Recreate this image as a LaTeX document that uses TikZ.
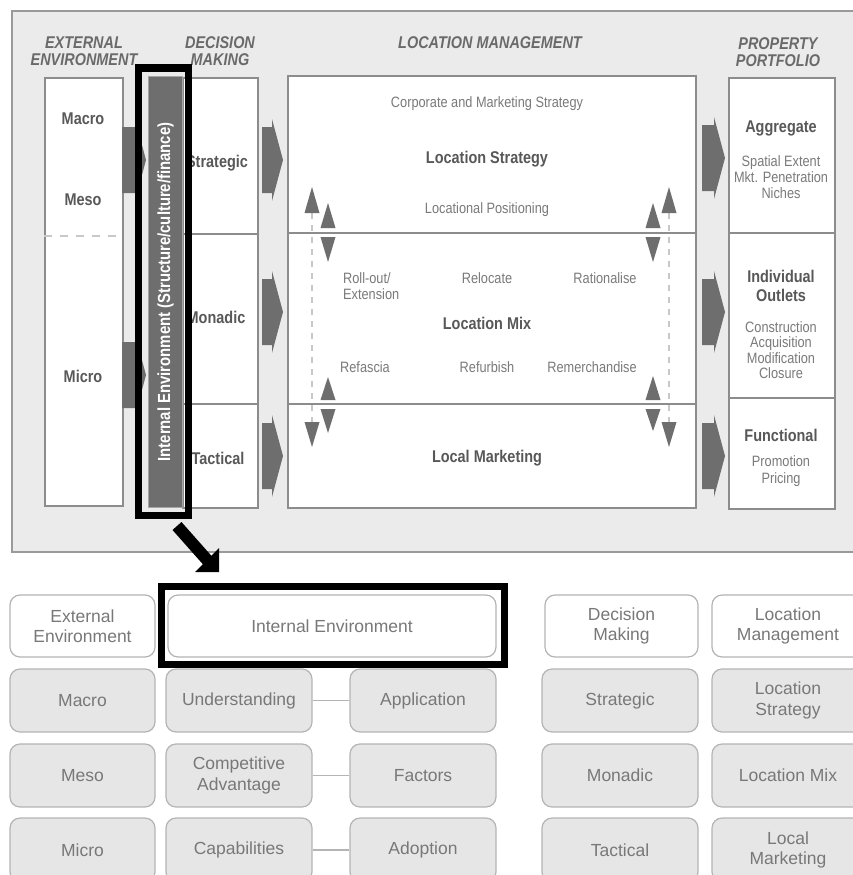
\documentclass[tikz,border=0pt]{standalone}
\usepackage{fontspec}
\setmainfont{Liberation Sans}
\newfontfamily\cnd[FakeStretch=0.85]{Liberation Sans}
\usetikzlibrary{calc}

\definecolor{panelbg}{HTML}{EBEBEB}
\definecolor{panelline}{HTML}{9A9A9A}
\definecolor{boxline}{HTML}{8C8C8C}
\definecolor{darkfill}{HTML}{6E6E6E}
\definecolor{txtbold}{HTML}{585858}
\definecolor{txtlight}{HTML}{7A7A7A}
\definecolor{hdrcol}{HTML}{6A6A6A}
\definecolor{dashcol}{HTML}{C8C8C8}
\definecolor{gridfill}{HTML}{E6E6E6}
\definecolor{gridline}{HTML}{B4B4B4}
\definecolor{gridtxt}{HTML}{787878}

% block arrow: left x, right x, centre y
\newcommand\garrow[3]{%
  \fill[darkfill] ({#1},{#3-33}) -- ({#2-11},{#3-33}) -- ({#2-11},{#3-41}) -- ({#2},{#3})
    -- ({#2-11},{#3+41}) -- ({#2-11},{#3+33}) -- ({#1},{#3+33}) -- cycle;}
% small triangle: x, tip y, base y
\newcommand\tri[3]{%
  \fill[darkfill] ({#1},{#2}) -- ({#1-7.5},{#3}) -- ({#1+7.5},{#3}) -- cycle;}

\begin{document}
\begin{tikzpicture}[x=1pt,y=-1pt,
  colbox/.style={draw=boxline, line width=2pt, fill=white, anchor=north west, inner sep=0},
  divider/.style={draw=boxline, line width=2pt},
  hdr/.style={font=\cnd\bfseries\itshape\fontsize{17}{17}\selectfont, text=hdrcol, inner sep=0, align=center},
  blab/.style={font=\cnd\bfseries\fontsize{17}{18}\selectfont, text=txtbold, inner sep=0, align=center},
  slab/.style={font=\cnd\fontsize{15}{16}\selectfont, text=txtlight, inner sep=0, align=center},
  dashv/.style={draw=dashcol, line width=1.2pt, dash pattern=on 6pt off 6pt},
  frame/.style={draw=black, line width=7pt, inner sep=0},
  gbox/.style={draw=gridline, line width=1.2pt, rounded corners=10pt, fill=gridfill,
    text=gridtxt, font=\fontsize{17.5}{20.5}\selectfont, align=center, inner sep=2pt,
    minimum height=63},
  hbox/.style={gbox, fill=white},
  gconn/.style={draw=gridline, line width=1.2pt}]
\useasboundingbox (0,0) rectangle (853,875);

% ---------- upper panel ----------
\node[draw=panelline, line width=2pt, fill=panelbg, anchor=north west, inner sep=0,
  minimum width=880, minimum height=541] (panel) at (11,10) {};

\node[hdr] (hext) at (84,51) {EXTERNAL\\ENVIRONMENT};
\node[hdr] (hdec) at (220,51) {DECISION\\MAKING};
\node[hdr] (hloc) at (490,43) {LOCATION MANAGEMENT};
\node[hdr] (hpro) at (778,52) {PROPERTY\\PORTFOLIO};

% external environment
\node[colbox, minimum width=78, minimum height=428] (ext) at (44,77) {};
\draw[dashv, dash pattern=on 8pt off 8pt] (44,236) -- (122,236);
\node[blab] (macro) at (83,119) {Macro};
\node[blab] (meso) at (83,200) {Meso};
\node[blab] (micro) at (83,376) {Micro};

\garrow{122}{146}{160}
\garrow{122}{146}{375}

% decision making
\node[colbox, minimum width=75, minimum height=430] (dec) at (182,77) {};
\draw[divider] (182,234) -- (257,234);
\draw[divider] (182,404) -- (257,404);
\node[blab] (strat) at (217,163) {Strategic};
\node[blab] (monad) at (216,317) {Monadic};
\node[blab] (tact) at (218,458) {Tactical};

% internal environment bar
\node[fill=darkfill, draw=gray!70, line width=1pt, anchor=north west, inner sep=0,
  minimum width=34, minimum height=431] (bar) at (148,76) {};
\node[rotate=90, inner sep=0, text=white,
  font=\cnd\bfseries\fontsize{17.5}{18}\selectfont] (bartxt) at (bar.center)
  {Internal Environment (Structure/culture/finance)};

\garrow{262}{283}{160}
\garrow{262}{283}{312}
\garrow{262}{283}{456}

% location management
\node[colbox, minimum width=408, minimum height=432] (loc) at (287,75) {};
\draw[divider] (287,233) -- (695,233);
\draw[divider] (287,404) -- (695,404);

\node[slab] (corp) at (487,104) {Corporate and Marketing Strategy};
\node[blab] (lstrat) at (487,159) {Location Strategy};
\node[slab] (lpos) at (487,210) {Locational Positioning};

\node[slab, anchor=west, align=left] (roll) at (343,286) {Roll-out/\\Extension};
\node[slab] (reloc) at (487,278) {Relocate};
\node[slab] (ration) at (605,278) {Rationalise};
\node[blab] (lmix) at (487,323) {Location Mix};
\node[slab] (refas) at (365,367) {Refascia};
\node[slab] (refur) at (487,367) {Refurbish};
\node[slab] (remer) at (592,367) {Remerchandise};
\node[blab] (lmark) at (487,458) {Local Marketing};

% vertical double arrows
\draw[dashv] (312,213) -- (312,422);
\draw[dashv] (669,213) -- (669,422);
\tri{312}{187}{213} \tri{312}{447}{422}
\tri{669}{187}{213} \tri{669}{447}{422}
\tri{328}{203}{228} \tri{328}{262}{237}
\tri{328}{377}{400} \tri{328}{433}{409}
\tri{653}{203}{228} \tri{653}{262}{237}
\tri{653}{376}{400} \tri{653}{431}{409}

\garrow{702}{725}{158}
\garrow{702}{725}{312}
\garrow{702}{725}{456}

% property portfolio
\node[colbox, minimum width=106, minimum height=431] (port) at (728,77) {};
\draw[divider] (728,233) -- (834,233);
\draw[divider] (728,398) -- (834,398);
\node[blab] (aggr) at (781,128) {Aggregate};
\node[slab] (aggrd) at (781,177) {Spatial Extent\\Mkt. Penetration\\Niches};
\node[blab, font=\cnd\bfseries\fontsize{17}{18.5}\selectfont] (indiv) at (781,286) {Individual\\Outlets};
\node[slab, font=\cnd\fontsize{15}{15.5}\selectfont] (indivd) at (781,350) {Construction\\Acquisition\\Modification\\Closure};
\node[blab] (func) at (781,435) {Functional};
\node[slab, font=\cnd\fontsize{15}{17}\selectfont] (funcd) at (781,471) {Promotion\\Pricing};

% highlight frame around the internal environment bar
\node[frame, minimum width=50, minimum height=447] (frtop) at (163,291.5) {};

% ---------- lower grid ----------
\node[hbox, minimum width=145, minimum height=62] (gext) at (82.5,626) {External\\Environment};
\node[hbox, minimum width=328, minimum height=62] (gint) at (332,626) {Internal Environment};
\node[hbox, minimum width=153, minimum height=62] (gdec) at (621.5,626) {Decision\\Making};
\node[hbox, minimum width=152, minimum height=62] (gloc) at (788,626) {Location\\Management};

\node[gbox, minimum width=145] (gmacro) at (82.5,700.5) {Macro};
\node[gbox, minimum width=146] (gund) at (239,700.5) {Understanding};
\node[gbox, minimum width=146] (gapp) at (423,700.5) {Application};
\node[gbox, minimum width=156] (gstrat) at (620,700.5) {Strategic};
\node[gbox, minimum width=152] (glstrat) at (788,700.5) {Location\\Strategy};

\node[gbox, minimum width=145] (gmeso) at (82.5,775.5) {Meso};
\node[gbox, minimum width=146] (gcomp) at (239,775.5) {Competitive\\Advantage};
\node[gbox, minimum width=146] (gfact) at (423,775.5) {Factors};
\node[gbox, minimum width=156] (gmonad) at (620,775.5) {Monadic};
\node[gbox, minimum width=152] (glmix) at (788,775.5) {Location Mix};

\node[gbox, minimum width=145, minimum height=64] (gmicro) at (82.5,850) {Micro};
\node[gbox, minimum width=146, minimum height=64] (gcap) at (239,850) {Capabilities};
\node[gbox, minimum width=146, minimum height=64] (gadop) at (423,850) {Adoption};
\node[gbox, minimum width=156, minimum height=64] (gtact) at (620,850) {Tactical};
\node[gbox, minimum width=152, minimum height=64] (glmark) at (788,850) {Local\\Marketing};

\draw[gconn] (gund) -- (gapp);
\draw[gconn] (gcomp) -- (gfact);
\draw[gconn] (gcap) -- (gadop);

% highlight frame around the internal environment box
\node[frame, minimum width=343, minimum height=78] (frbot) at (332.5,625) {};

% pointer from the upper frame to the lower one
\coordinate (pa) at (177,526);
\coordinate (pb) at (208,561);
\draw[line width=12pt, black] (pa) -- (pb);
\fill[black] (219,572) -- (195,572) -- (219,548) -- cycle;
\end{tikzpicture}
\end{document}
